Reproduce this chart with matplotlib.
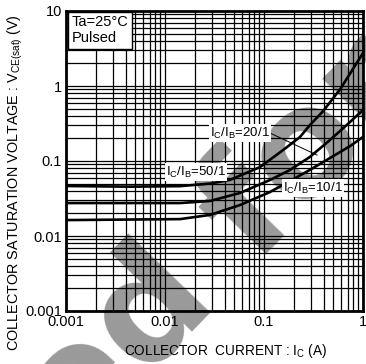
import matplotlib
matplotlib.use("Agg")
import matplotlib.pyplot as plt
from matplotlib.ticker import FixedLocator, LogLocator, NullFormatter

plt.rcParams["font.family"] = ["Liberation Sans", "DejaVu Sans"]
plt.rcParams["mathtext.fontset"] = "custom"
plt.rcParams["mathtext.rm"] = "Liberation Sans"
plt.rcParams["mathtext.it"] = "Liberation Sans:italic"
plt.rcParams["mathtext.bf"] = "Liberation Sans:bold"

# Collector current (A) and saturation voltage (V) for each forced-beta ratio
ic_50 = [0.001, 0.0044, 0.0142, 0.0285, 0.0454, 0.0912, 0.156, 0.231, 0.29, 0.394, 0.586, 1.0]
vce_50 = [0.0464, 0.0455, 0.0462, 0.050, 0.056, 0.083, 0.140, 0.209, 0.30, 0.46, 0.90, 2.75]

ic_20 = [0.001, 0.0142, 0.0285, 0.0573, 0.115, 0.183, 0.29, 0.464, 0.74, 1.0]
vce_20 = [0.0275, 0.0275, 0.0293, 0.0375, 0.0558, 0.0759, 0.113, 0.1905, 0.331, 0.479]

ic_10 = [0.001, 0.0142, 0.0285, 0.0573, 0.115, 0.183, 0.29, 0.464, 0.74, 1.0]
vce_10 = [0.0163, 0.0168, 0.0191, 0.0259, 0.0386, 0.0541, 0.0759, 0.1096, 0.158, 0.209]

x_ticks = [0.001, 0.01, 0.1, 1]
x_tick_labels = ["0.001", "0.01", "0.1", "1"]
y_ticks = [0.001, 0.01, 0.1, 1, 10]
y_tick_labels = ["0.001", "0.01", "0.1", "1", "10"]

fig = plt.figure(figsize=(3.66, 3.64), dpi=100)
fig.patch.set_facecolor("white")

# watermark behind the chart
fig.text(0.205, -0.245, "ed for", fontsize=108, fontweight="bold",
         color="#9a9a9a", rotation=46, rotation_mode="anchor",
         ha="left", va="baseline", zorder=-5, family="DejaVu Sans")

ax = fig.add_axes([66 / 366, 1 - 311 / 364, 297 / 366, 300 / 364])
ax.patch.set_facecolor("none")
ax.set_xscale("log")
ax.set_yscale("log")
ax.set_xlim(0.001, 1)
ax.set_ylim(0.001, 10)

ax.xaxis.set_major_locator(FixedLocator(x_ticks))
ax.yaxis.set_major_locator(FixedLocator(y_ticks))
ax.set_xticklabels(x_tick_labels)
ax.set_yticklabels(y_tick_labels)
ax.xaxis.set_minor_locator(LogLocator(base=10, subs=range(2, 10)))
ax.yaxis.set_minor_locator(LogLocator(base=10, subs=range(2, 10)))
ax.xaxis.set_minor_formatter(NullFormatter())
ax.yaxis.set_minor_formatter(NullFormatter())
ax.tick_params(which="both", length=0, labelsize=10.5, pad=3, colors="black")
ax.grid(which="both", color="black", linewidth=0.9)
ax.set_axisbelow(True)
for s in ax.spines.values():
    s.set_linewidth(2.0)

for ic, v in ((ic_50, vce_50), (ic_20, vce_20), (ic_10, vce_10)):
    ax.plot(ic, v, color="black", linewidth=1.9, zorder=3)

lbl = dict(fontsize=9.5, ha="center", va="center", zorder=5,
           bbox=dict(facecolor="white", edgecolor="none", pad=1.0))
ax.text(0.0206, 0.0713, r"$\mathregular{I_C/I_B}$=50/1", **lbl)
ax.text(0.0573, 0.236, r"$\mathregular{I_C/I_B}$=20/1", **lbl)
ax.text(0.313, 0.0437, r"$\mathregular{I_C/I_B}$=10/1", **lbl)
ax.plot([0.115, 0.343], [0.236, 0.120], color="black", linewidth=0.7, zorder=4)

ax.text(0.02, 0.985, "Ta=25\u00b0C\nPulsed", transform=ax.transAxes,
        fontsize=10.5, ha="left", va="top", linespacing=1.15, zorder=6,
        bbox=dict(facecolor="white", edgecolor="black", linewidth=1.0,
                  boxstyle="square,pad=0.25"))

ax.set_xlabel(r"COLLECTOR  CURRENT : $\mathregular{I_C}$ (A)", fontsize=9.8)
ax.xaxis.set_label_coords((226 - 66) / 297, -(342 - 311) / 300)
ax.set_ylabel(r"COLLECTOR SATURATION VOLTAGE : $\mathregular{V_{CE(sat)}}$ (V)",
              fontsize=10.4)
ax.yaxis.set_label_coords(-(66 - 25) / 297, (311 - 183) / 300)

fig.savefig("out.png", dpi=100, facecolor="white")
